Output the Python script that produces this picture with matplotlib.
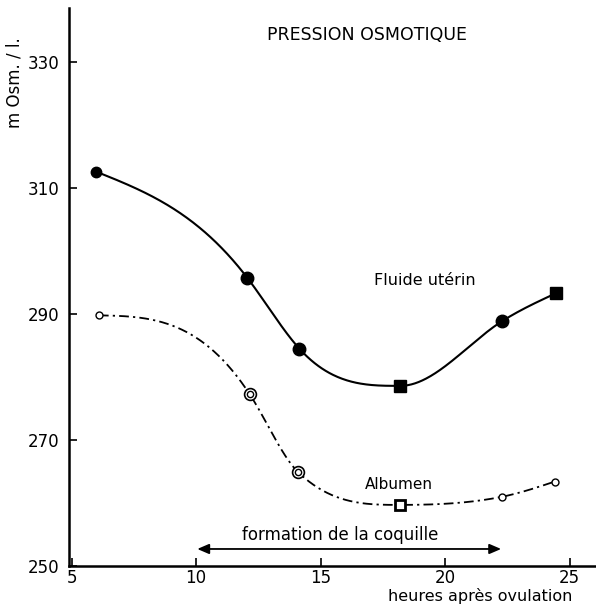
import numpy as np
import matplotlib
matplotlib.use("Agg")
import matplotlib.pyplot as plt

plt.rcParams["font.family"] = ["DejaVu Sans"]
plt.rcParams["lines.scale_dashes"] = False

# Osmotic pressure (mOsm/l) versus hours after ovulation
fluid_hours = [6.0, 12.05, 14.15, 18.2, 22.3, 24.45]
fluid_mosm = [312.6, 295.8, 284.5, 278.6, 288.9, 293.3]

albumen_hours = [6.1, 12.15, 14.1, 18.2, 22.3, 24.4]
albumen_mosm = [289.8, 277.3, 264.9, 259.7, 261.0, 263.4]

x_ticks = [5, 10, 15, 20, 25]
y_ticks = [250, 270, 290, 310, 330]

shell_start, shell_end = 10.05, 22.25


def smooth_curve(x, y, n=500):
    """Natural-spline slopes, limited so the curve does not overshoot the points."""
    x = np.asarray(x, float)
    y = np.asarray(y, float)
    k = len(x)
    h = np.diff(x)
    delta = np.diff(y) / h
    A = np.zeros((k, k))
    r = np.zeros(k)
    A[0, 0] = A[-1, -1] = 1.0
    for i in range(1, k - 1):
        A[i, i - 1] = h[i - 1]
        A[i, i] = 2 * (h[i - 1] + h[i])
        A[i, i + 1] = h[i]
        r[i] = 6 * (delta[i] - delta[i - 1])
    M = np.linalg.solve(A, r)
    d = np.empty(k)
    d[:-1] = delta - h * (2 * M[:-1] + M[1:]) / 6
    d[-1] = delta[-1] + h[-1] * (M[-2] + 2 * M[-1]) / 6
    # flat tangent at turning points, Fritsch-Carlson limit elsewhere
    for i in range(1, k - 1):
        if delta[i - 1] * delta[i] <= 0:
            d[i] = 0.0
    for i in range(k - 1):
        a, b = d[i] / delta[i], d[i + 1] / delta[i]
        if a < 0:
            d[i] = 0.0
            a = 0.0
        if b < 0:
            d[i + 1] = 0.0
            b = 0.0
        s = a * a + b * b
        if s > 9:
            tau = 3 / np.sqrt(s)
            d[i] = tau * a * delta[i]
            d[i + 1] = tau * b * delta[i]

    xs = np.linspace(x[0], x[-1], n)
    idx = np.clip(np.searchsorted(x, xs) - 1, 0, k - 2)
    t = (xs - x[idx]) / h[idx]
    h00 = 2 * t ** 3 - 3 * t ** 2 + 1
    h10 = t ** 3 - 2 * t ** 2 + t
    h01 = -2 * t ** 3 + 3 * t ** 2
    h11 = t ** 3 - t ** 2
    ys = (h00 * y[idx] + h10 * h[idx] * d[idx]
          + h01 * y[idx + 1] + h11 * h[idx] * d[idx + 1])
    return xs, ys


fig = plt.figure(figsize=(5.96, 6.14), dpi=100)
ax = fig.add_axes([0.1158, 0.0782, 0.8842, 0.9088])

ax.set_xlim(4.9, 26.06)
ax.set_ylim(250, 338.6)

# Uterine fluid: solid smooth curve
fx, fy = smooth_curve(fluid_hours, fluid_mosm)
ax.plot(fx, fy, color="black", lw=1.5, solid_capstyle="round", zorder=2)
for i, (hx, my) in enumerate(zip(fluid_hours, fluid_mosm)):
    if i in (3, 5):
        ax.plot(hx, my, marker="s", ms=8, color="black", zorder=3)
    else:
        ax.plot(hx, my, marker="o", ms=9 if i else 7.5, color="black", zorder=3)

# Albumen: dash-dot smooth curve
bx, by = smooth_curve(albumen_hours, albumen_mosm)
ax.plot(bx, by, color="black", lw=1.3, linestyle=(0, (7, 3, 1.6, 3)), zorder=2)
for i, (hx, my) in enumerate(zip(albumen_hours, albumen_mosm)):
    if i in (1, 2):
        ax.plot(hx, my, marker="o", ms=8.5, mfc="white", mec="black", mew=1.2, zorder=3)
        ax.plot(hx, my, marker="o", ms=4.5, mfc="white", mec="black", mew=1.0, zorder=4)
    elif i == 3:
        ax.plot(hx, my, marker="s", ms=7, mfc="white", mec="black", mew=2.0, zorder=3)
    else:
        ax.plot(hx, my, marker="o", ms=5, mfc="white", mec="black", mew=1.0, zorder=3)

# Shell formation period
ax.annotate("", xy=(shell_start, 252.7), xytext=(shell_end, 252.7),
            arrowprops=dict(arrowstyle="<|-|>,head_length=0.7,head_width=0.3",
                            color="black", lw=1.3, shrinkA=0, shrinkB=0))
ax.text((shell_start + shell_end) / 2 - 0.35, 254.9, "formation de la coquille",
        ha="center", va="center", fontsize=12)

ax.text(16.87, 334.3, "PRESSION OSMOTIQUE", ha="center", va="center", fontsize=12.5)
ax.text(19.2, 295.3, "Fluide utérin", ha="center", va="center", fontsize=11.5)
ax.text(18.15, 263.0, "Albumen", ha="center", va="center", fontsize=11)

fig.text(0.025, 0.865, "m Osm. / l.", rotation=90, ha="center", va="center", fontsize=12)
fig.text(0.805, 0.029, "heures après ovulation", ha="center", va="center", fontsize=11.5)

ax.set_xticks(x_ticks)
ax.set_yticks(y_ticks)
ax.tick_params(direction="in", length=6, width=1.2, labelsize=12, pad=7)
ax.tick_params(axis="x", pad=2.5)

for side in ("top", "right"):
    ax.spines[side].set_visible(False)
for side in ("left", "bottom"):
    ax.spines[side].set_linewidth(1.8)

fig.savefig("out.png", dpi=100)
